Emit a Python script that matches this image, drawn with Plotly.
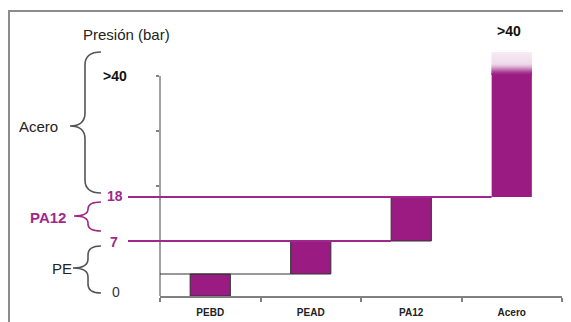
import plotly.graph_objects as go

# ---------------- data ----------------
categories = ["PEBD", "PEAD", "PA12", "Acero"]
bar_low = [0.0, 0.4, 1.0, 1.8]          # schematic pressure scale
bar_high = [0.4, 1.0, 1.8, 4.0]
acero_fade_top = 4.43                    # faded top of the open-ended Acero bar
level_labels = ["0", "7", "18", ">40"]
level_values = [0.0, 1.0, 1.8, 4.0]
group_names = ["PE", "PA12", "Acero"]
y_ticks = [1, 2, 3, 4]

# ---------------- layout geometry (screen pixels) ----------------
OFF = 8                      # page body margin
W, H = 571 - OFF, 322 - OFF
X0, X1 = 160, 562            # plot area left/right on screen
Y0, Y1 = 52, 296             # plot area top/bottom on screen
PW = X1 - X0
PH = Y1 - Y0
L = X0 - OFF
R = W - L - PW
T = Y0 - OFF
B = H - T - PH
YMAX = 4.436
BAR_W = 0.4

MAG_RGB = (154, 27, 130)
MAG = "rgb(%d,%d,%d)" % MAG_RGB
MAG_TXT = "#a0288c"
GRAY = "#808080"
FONT = "Liberation Sans, Arial, sans-serif"


def px(x):
    return (x - X0) / PW


def py(y):
    return (Y1 - y) / PH


def cat_paper(xc):
    return (xc + 0.5) / len(categories)


def blend(op):
    c = [round(255 + (m - 255) * op) for m in MAG_RGB]
    return "rgb(%d,%d,%d)" % tuple(c)


fig = go.Figure()

# main floating bars
fig.add_trace(go.Bar(
    x=categories,
    y=[h - l for l, h in zip(bar_low, bar_high)],
    base=bar_low,
    width=BAR_W,
    marker=dict(color=MAG, line=dict(color="#333333", width=[1, 1, 1, 0])),
    hoverinfo="skip",
))

# faded top of Acero bar (opaque colour steps from magenta to pale pink)
n_fade = 24
for i in range(n_fade):
    y0 = bar_high[3] + (acero_fade_top - bar_high[3]) * i / n_fade
    y1 = bar_high[3] + (acero_fade_top - bar_high[3]) * (i + 1) / n_fade
    t = (i + 0.5) / n_fade
    if t < 0.05:
        op = 1.0
    elif t < 0.6:
        s = (t - 0.05) / 0.55
        op = 1.0 - 0.85 * (3 * s * s - 2 * s * s * s)
    else:
        op = 0.15 - (t - 0.6) * 0.15
    fig.add_trace(go.Bar(
        x=[categories[3]], y=[y1 - y0 + 0.003], base=[y0], width=BAR_W,
        marker=dict(color=blend(op), line=dict(width=0)),
        hoverinfo="skip",
    ))

shapes = []
# frame
shapes.append(dict(type="rect", xref="paper", yref="paper",
                   x0=px(OFF + 1), x1=px(640), y0=py(11), y1=py(380),
                   line=dict(color="#8c8c8c", width=2), fillcolor="rgba(0,0,0,0)"))
# y axis line
shapes.append(dict(type="line", xref="paper", yref="y", x0=0, x1=0,
                   y0=0, y1=y_ticks[-1], line=dict(color=GRAY, width=1.5)))
# step line at top of PEBD
shapes.append(dict(type="line", xref="paper", yref="y",
                   x0=0, x1=cat_paper(1 - BAR_W / 2),
                   y0=bar_high[0], y1=bar_high[0],
                   line=dict(color="#333333", width=1.2)))
# magenta level lines
shapes.append(dict(type="line", xref="paper", yref="y",
                   x0=px(128), x1=cat_paper(2 - BAR_W / 2),
                   y0=level_values[1], y1=level_values[1],
                   line=dict(color=MAG_TXT, width=2)))
shapes.append(dict(type="line", xref="paper", yref="y",
                   x0=px(128), x1=cat_paper(3 - BAR_W / 2),
                   y0=level_values[2], y1=level_values[2],
                   line=dict(color=MAG_TXT, width=2)))


def brace(x_end, x_spine, x_tip, y_top, y_bot, y_mid, r, color):
    pts = [
        ("M", [(x_end, y_top)]),
        ("Q", [(x_spine, y_top), (x_spine, y_top + r)]),
        ("L", [(x_spine, y_mid - r)]),
        ("Q", [(x_spine, y_mid), (x_tip, y_mid)]),
        ("Q", [(x_spine, y_mid), (x_spine, y_mid + r)]),
        ("L", [(x_spine, y_bot - r)]),
        ("Q", [(x_spine, y_bot), (x_end, y_bot)]),
    ]
    path = " ".join(cmd + " " + " ".join(f"{px(a):.5f},{py(b):.5f}" for a, b in p)
                    for cmd, p in pts)
    return dict(type="path", xref="paper", yref="paper", path=path,
                line=dict(color=color, width=1.6))


shapes.append(brace(101, 85, 70, 52, 193, 126, 13, "#555555"))
shapes.append(brace(101, 88, 74, 202, 231, 216, 7, MAG_TXT))
shapes.append(brace(101, 88, 73, 246, 293, 268, 9, "#555555"))

annotations = []


def txt(s, x, y, size, color, bold=False):
    annotations.append(dict(text=s, x=px(x), y=py(y), xref="paper", yref="paper",
                            showarrow=False, xanchor="center", yanchor="middle",
                            font=dict(family=FONT, size=size, color=color,
                                      weight="bold" if bold else "normal")))


txt("Presión (bar)", 126, 35, 15, "#222222")
txt(group_names[2], 38, 126, 15, "#222222")
txt(group_names[1], 48, 217, 15, MAG_TXT, bold=True)
txt(group_names[0], 62, 268, 15, "#222222")
txt(level_labels[3], 115, 76, 14, "#111111", bold=True)
txt(level_labels[2], 115, 196, 14, MAG_TXT, bold=True)
txt(level_labels[1], 114, 242, 14, MAG_TXT, bold=True)
txt(level_labels[0], 116, 292, 14, "#333344")
txt(level_labels[3], 509, 31, 14, "#111111", bold=True)

fig.update_layout(
    width=W, height=H,
    margin=dict(l=L, r=R, t=T, b=B, autoexpand=False),
    barmode="overlay",
    showlegend=False,
    plot_bgcolor="white",
    paper_bgcolor="white",
    shapes=shapes,
    annotations=annotations,
    xaxis=dict(type="category", categoryorder="array", categoryarray=categories,
               showline=True, linecolor=GRAY, linewidth=1.5,
               ticks="outside", tickson="boundaries", ticklen=4, tickcolor=GRAY,
               tickwidth=1.5, showgrid=False, zeroline=False, ticklabelstandoff=6,
               tickfont=dict(family=FONT, size=10, color="#222222", weight="bold")),
    yaxis=dict(range=[0, YMAX], showline=False, showgrid=False, zeroline=False,
               tickvals=y_ticks, ticks="outside", ticklen=3, tickcolor=GRAY,
               tickwidth=1.5, showticklabels=False),
)

fig.write_html("out.html")
